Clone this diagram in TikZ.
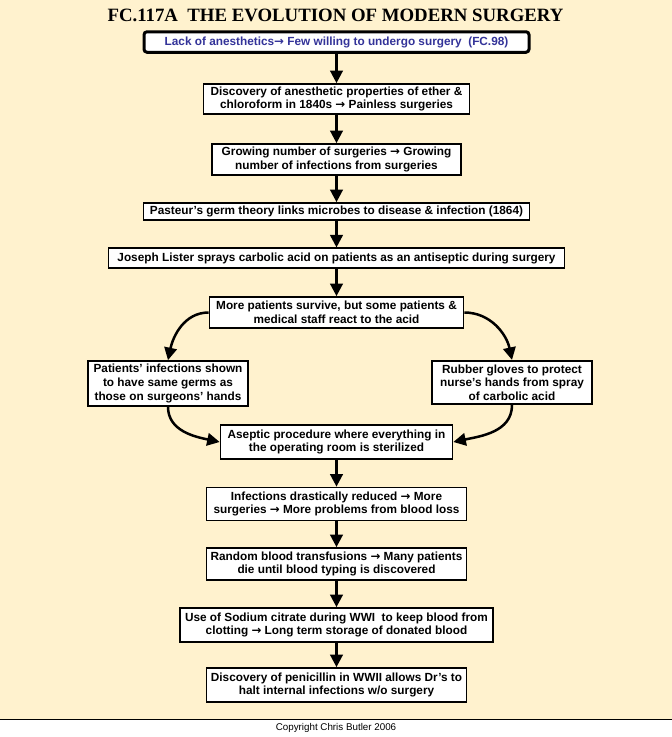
\documentclass[tikz,border=0pt]{standalone}
\usepackage{fontspec}
\setmainfont{Liberation Sans}
\newfontfamily\titlefont{Liberation Serif}
\newfontfamily\arrowfont{DejaVu Sans}
\newcommand\rarr{{\arrowfont\bfseries →}}
\usetikzlibrary{arrows.meta}
\definecolor{paper}{RGB}{255,242,206}
\definecolor{linkblue}{RGB}{51,51,153}

\begin{document}
\begin{tikzpicture}[
  x=1pt, y=-1pt,
  stage/.style={rectangle, draw, fill=white, line width=1.7pt, align=center, inner sep=1pt,
    font=\fontsize{11.8}{13.6}\selectfont\bfseries},
  link/.style={stage, line width=3pt, rounded corners=3pt, text=linkblue},
  arrow/.style={-{Triangle[length=12.5pt,width=12.5pt]}, line width=2.5pt}
]
\fill[paper] (0,0) rectangle (672,719.5);
\useasboundingbox (0,0) rectangle (672,737);
\draw[line width=1.5pt] (0,719.5) -- (672,719.5);

\node[font=\titlefont\bfseries\fontsize{18.8}{20}\selectfont] (title) at (335.5,15) {FC.117A\ \ THE EVOLUTION OF MODERN SURGERY};
\node[link, minimum width=385pt, minimum height=20.5pt] (lack) at (336.5,42) {Lack of anesthetics\rarr\ Few willing to undergo surgery~ (FC.98)};
\node[stage, minimum width=266pt, minimum height=30pt] (ether) at (336.5,99) {Discovery of anesthetic properties of ether \&\\chloroform in 1840s \rarr\ Painless surgeries};
\node[stage, minimum width=249pt, minimum height=31pt] (growing) at (336.5,159.5) {Growing number of surgeries \rarr\ Growing\\number of infections from surgeries};
\node[stage, minimum width=386pt, minimum height=17pt] (pasteur) at (336.5,211.5) {Pasteur's germ theory links microbes to disease \& infection (1864)};
\node[stage, minimum width=456pt, minimum height=20pt] (lister) at (336.5,258.3) {Joseph Lister sprays carbolic acid on patients as an antiseptic during surgery};
\node[stage, minimum width=254pt, minimum height=31pt] (survive) at (336.5,312.5) {More patients survive, but some patients \&\\medical staff react to the acid};
\node[stage, minimum width=160pt, minimum height=45pt] (germs) at (168,383.5) {Patients' infections shown\\to have same germs as\\those on surgeons' hands};
\node[stage, minimum width=160pt, minimum height=43.5pt] (gloves) at (512,382.5) {Rubber gloves to protect\\nurse's hands from spray\\of carbolic acid};
\node[stage, minimum width=232pt, minimum height=34pt] (aseptic) at (336.5,442) {Aseptic procedure where everything in\\the operating room is sterilized};
\node[stage, minimum width=260pt, minimum height=33pt] (reduced) at (336.5,504) {Infections drastically reduced \rarr\ More\\surgeries \rarr\ More problems from blood loss};
\node[stage, minimum width=260pt, minimum height=32pt] (transfusion) at (336.5,564) {Random blood transfusions \rarr\ Many patients\\die until blood typing is discovered};
\node[stage, minimum width=313pt, minimum height=34pt] (citrate) at (336.5,625) {Use of Sodium citrate during WWI~ to keep blood from\\clotting \rarr\ Long term storage of donated blood};
\node[stage, minimum width=260pt, minimum height=34pt] (penicillin) at (336.5,685) {Discovery of penicillin in WWII allows Dr's to\\halt internal infections w/o surgery};
\node[font=\fontsize{9.8}{11}\selectfont] (copyright) at (336,728) {Copyright Chris Butler 2006};

\draw[arrow] (lack) -- (ether);
\draw[arrow] (ether) -- (growing);
\draw[arrow] (growing) -- (pasteur);
\draw[arrow] (pasteur) -- (lister);
\draw[arrow] (lister) -- (survive);
\draw[arrow] (survive.west) to[out=180, in=78] (germs.north);
\draw[arrow] (survive.east) to[out=0, in=102] (gloves.north);
\draw[arrow] (germs.south) to[out=-90, in=168] (aseptic.west);
\draw[arrow] (gloves.south) to[out=-90, in=12] (aseptic.east);
\draw[arrow] (aseptic) -- (reduced);
\draw[arrow] (reduced) -- (transfusion);
\draw[arrow] (transfusion) -- (citrate);
\draw[arrow] (citrate) -- (penicillin);
\end{tikzpicture}
\end{document}
